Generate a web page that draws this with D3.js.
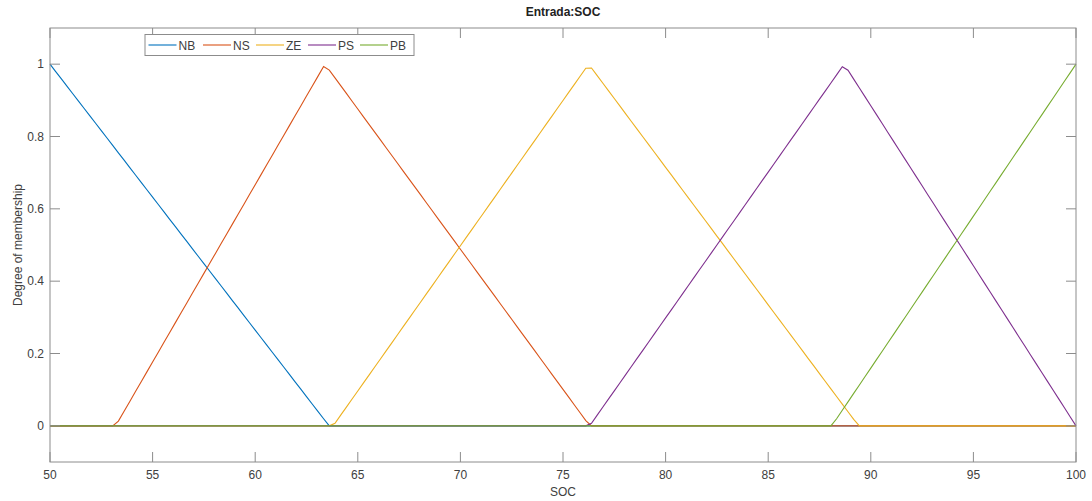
<!DOCTYPE html>
<html>
<head>
<meta charset="utf-8">
<script src="https://cdn.jsdelivr.net/npm/d3@7"></script>
<style>
  html, body { margin: 0; padding: 0; background: #fff; }
  svg { display: block; font-family: "Liberation Sans", Arial, sans-serif; }
</style>
</head>
<body>
<svg id="chart" width="1092" height="501"></svg>
<script>
// Membership functions of the input variable SOC (triangular: a, b, c)
const mfNames = ["NB", "NS", "ZE", "PS", "PB"];
const mfParams = [
  [36.4, 50, 63.6],
  [53.2, 63.4, 76.3],
  [63.8, 76.25, 89.4],
  [76.3, 88.7, 100],
  [88.1, 100, 113.6]
];
const mfColors = ["#0072BD", "#D95319", "#EDB120", "#7E2F8E", "#77AC30"];
const xTicks = [50, 55, 60, 65, 70, 75, 80, 85, 90, 95, 100];
const yTicks = [0, 0.2, 0.4, 0.6, 0.8, 1];
const xDomain = [50, 100];
const yDomain = [-0.1, 1.1];
const nPoints = 181;

const trimf = (x, [a, b, c]) =>
  Math.max(0, Math.min((x - a) / (b - a), (c - x) / (c - b)));

const svg = d3.select("#chart");
const plot = { left: 50, right: 1076, top: 28, bottom: 462 };

const x = d3.scaleLinear().domain(xDomain).range([plot.left, plot.right]);
const y = d3.scaleLinear().domain(yDomain).range([plot.bottom, plot.top]);

// sample points along the universe of discourse
const xs = d3.range(nPoints).map(i => xDomain[0] + (xDomain[1] - xDomain[0]) * i / (nPoints - 1));

const line = d3.line().x(d => x(d[0])).y(d => y(d[1]));

mfParams.forEach((p, i) => {
  svg.append("path")
    .datum(xs.map(v => [v, trimf(v, p)]))
    .attr("fill", "none")
    .attr("stroke", mfColors[i])
    .attr("stroke-width", 1.1)
    .attr("d", line);
});

// axes box
const axisColor = "#8c8c8c";
const textColor = "#404040";
svg.append("rect")
  .attr("x", plot.left).attr("y", plot.top)
  .attr("width", plot.right - plot.left).attr("height", plot.bottom - plot.top)
  .attr("fill", "none").attr("stroke", axisColor).attr("stroke-width", 1);

const tickLen = 10;
const xAxisG = svg.append("g");
xTicks.forEach(t => {
  xAxisG.append("line").attr("x1", x(t)).attr("x2", x(t))
    .attr("y1", plot.bottom).attr("y2", plot.bottom - tickLen).attr("stroke", axisColor);
  xAxisG.append("line").attr("x1", x(t)).attr("x2", x(t))
    .attr("y1", plot.top).attr("y2", plot.top + tickLen).attr("stroke", axisColor);
  xAxisG.append("text").attr("x", x(t)).attr("y", plot.bottom + 17)
    .attr("text-anchor", "middle").attr("font-size", 12).attr("fill", textColor)
    .text(t);
});

const yAxisG = svg.append("g");
yTicks.forEach(t => {
  yAxisG.append("line").attr("x1", plot.left).attr("x2", plot.left + tickLen)
    .attr("y1", y(t)).attr("y2", y(t)).attr("stroke", axisColor);
  yAxisG.append("line").attr("x1", plot.right).attr("x2", plot.right - tickLen)
    .attr("y1", y(t)).attr("y2", y(t)).attr("stroke", axisColor);
  yAxisG.append("text").attr("x", plot.left - 6).attr("y", y(t) + 4)
    .attr("text-anchor", "end").attr("font-size", 12).attr("fill", textColor)
    .text(t);
});

// title and axis labels
svg.append("text").attr("x", (plot.left + plot.right) / 2).attr("y", 16)
  .attr("text-anchor", "middle").attr("font-size", 12).attr("font-weight", "bold")
  .attr("fill", "#222").text("Entrada:SOC");
svg.append("text").attr("x", (plot.left + plot.right) / 2).attr("y", 496)
  .attr("text-anchor", "middle").attr("font-size", 12).attr("fill", textColor)
  .text("SOC");
svg.append("text")
  .attr("transform", `translate(22,${(plot.top + plot.bottom) / 2}) rotate(-90)`)
  .attr("text-anchor", "middle").attr("font-size", 12).attr("fill", textColor)
  .text("Degree of membership");

// legend
const legend = svg.append("g");
legend.append("rect").attr("x", 145).attr("y", 34.5).attr("width", 269).attr("height", 21)
  .attr("fill", "#fff").attr("stroke", axisColor);
const itemX = [148.5, 203, 256, 308, 360];
mfNames.forEach((n, i) => {
  legend.append("line").attr("x1", itemX[i]).attr("x2", itemX[i] + 28)
    .attr("y1", 45).attr("y2", 45).attr("stroke", mfColors[i]).attr("stroke-width", 1.1);
  legend.append("text").attr("x", itemX[i] + 30).attr("y", 49.5)
    .attr("font-size", 12).attr("fill", textColor).text(n);
});
</script>
</body>
</html>
